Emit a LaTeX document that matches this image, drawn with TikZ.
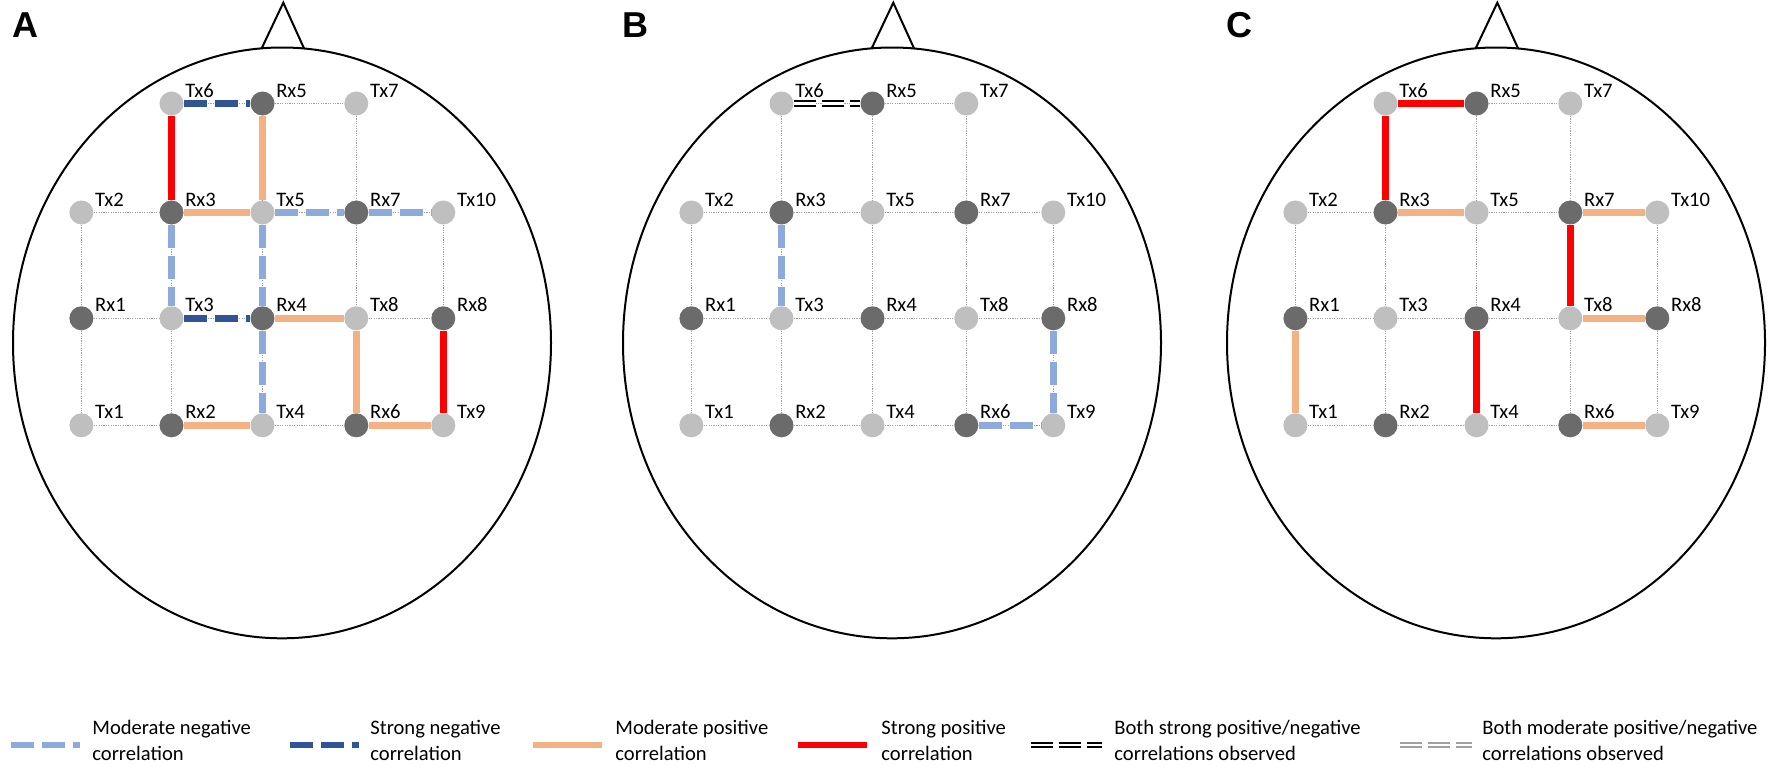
\documentclass[tikz,border=0pt]{standalone}
\usepackage{fontspec}
\setmainfont{Carlito}
\newfontfamily\panelfont{Liberation Sans}

\definecolor{txgray}{HTML}{BFBFBF}
\definecolor{rxgray}{HTML}{6B6B6B}
\definecolor{dotgray}{HTML}{A0A0A0}
\definecolor{modblue}{HTML}{8EA9DB}
\definecolor{strblue}{HTML}{2F5597}
\definecolor{modorange}{HTML}{F4B183}
\definecolor{strred}{HTML}{FF0000}

\tikzset{
  tx/.style={circle, fill=txgray, minimum size=12pt, inner sep=0pt},
  rx/.style={circle, fill=rxgray, minimum size=12pt, inner sep=0pt},
  lbl/.style={anchor=base west, inner sep=0pt, xshift=0.5pt, yshift=3.25pt, font=\fontsize{10.3}{12}\selectfont},
  gridline/.style={draw=dotgray, line width=0.5pt, dash pattern=on 0.6pt off 0.6pt},
  head/.style={draw=black, line width=1pt},
  modneg/.style={draw=modblue, line width=3.2pt, dash pattern=on 11.5pt off 4pt},
  strneg/.style={draw=strblue, line width=3.2pt, dash pattern=on 11.5pt off 4pt},
  modpos/.style={draw=modorange, line width=3.2pt},
  strpos/.style={draw=strred, line width=3.2pt},
  bothstr/.style={draw=black, double=white, line width=0.9pt, double distance=1.3pt, dash pattern=on 11pt off 3pt},
  bothmod/.style={draw=dotgray, double=white, line width=0.9pt, double distance=1.3pt, dash pattern=on 11pt off 3pt},
  panel/.style={anchor=base west, inner sep=0pt, font=\panelfont\bfseries\fontsize{18}{20}\selectfont},
  legtxt/.style={anchor=base west, inner sep=0pt, align=left, font=\fontsize{10.3}{13}\selectfont}
}

\begin{document}
\begin{tikzpicture}[x=0.5pt, y=-0.5pt]
\useasboundingbox (0,0) rectangle (1772,766);

% three heads
\foreach \p/\dx in {A/0,B/610,C/1214}{
\begin{scope}[shift={(\dx,0)}]
\node[panel] (\p-letter) at (12,37.3) {\p};
\draw[head] (282,342.9) ellipse [x radius=134.5pt, y radius=147.7pt];
\draw[head, line join=miter] (261.7,48.3) -- (283.3,2.7) -- (304,48.3);

\foreach \n/\x/\y in {Tx6/171.5/103.5, Tx7/356.3/103.5, Tx2/81.4/212.5, Tx5/262.5/212.5, Tx10/443.3/212.5,
  Tx3/171.5/318.3, Tx8/356.3/318.3, Tx1/81.4/425.3, Tx4/262.5/425.3, Tx9/443.3/425.3}
  \node[tx, label={[lbl]0:\n}] (\p-\n) at (\x,\y) {};
\foreach \n/\x/\y in {Rx5/262.5/103.5, Rx3/171.5/212.5, Rx7/356.3/212.5, Rx1/81.4/318.3,
  Rx4/262.5/318.3, Rx8/443.3/318.3, Rx2/171.5/425.3, Rx6/356.3/425.3}
  \node[rx, label={[lbl]0:\n}] (\p-\n) at (\x,\y) {};

\foreach \a/\b in {Tx6/Rx5, Rx5/Tx7, Tx2/Rx3, Rx3/Tx5, Tx5/Rx7, Rx7/Tx10, Rx1/Tx3, Tx3/Rx4,
  Rx4/Tx8, Tx8/Rx8, Tx1/Rx2, Rx2/Tx4, Tx4/Rx6, Rx6/Tx9,
  Tx2/Rx1, Rx1/Tx1, Tx6/Rx3, Rx3/Tx3, Tx3/Rx2, Rx5/Tx5, Tx5/Rx4, Rx4/Tx4,
  Tx7/Rx7, Rx7/Tx8, Tx8/Rx6, Tx10/Rx8, Rx8/Tx9}
  \draw[gridline] (\p-\a) -- (\p-\b);
\end{scope}
}

% A
\draw[strneg] (A-Tx6) -- (A-Rx5);
\draw[strpos] (A-Tx6) -- (A-Rx3);
\draw[modpos] (A-Rx5) -- (A-Tx5);
\draw[modpos] (A-Rx3) -- (A-Tx5);
\draw[modneg] (A-Tx5) -- (A-Rx7);
\draw[modneg] (A-Rx7) -- (A-Tx10);
\draw[modneg] (A-Rx3) -- (A-Tx3);
\draw[modneg] (A-Tx5) -- (A-Rx4);
\draw[strneg] (A-Tx3) -- (A-Rx4);
\draw[modpos] (A-Rx4) -- (A-Tx8);
\draw[modneg] (A-Rx4) -- (A-Tx4);
\draw[modpos] (A-Tx8) -- (A-Rx6);
\draw[strpos] (A-Rx8) -- (A-Tx9);
\draw[modpos] (A-Rx2) -- (A-Tx4);
\draw[modpos] (A-Rx6) -- (A-Tx9);

% B
\draw[bothstr] (B-Tx6) -- (B-Rx5);
\draw[modneg] (B-Rx3) -- (B-Tx3);
\draw[modneg] (B-Rx8) -- (B-Tx9);
\draw[modneg] (B-Rx6) -- (B-Tx9);

% C
\draw[strpos] (C-Tx6) -- (C-Rx5);
\draw[strpos] (C-Tx6) -- (C-Rx3);
\draw[modpos] (C-Rx3) -- (C-Tx5);
\draw[modpos] (C-Rx7) -- (C-Tx10);
\draw[strpos] (C-Rx7) -- (C-Tx8);
\draw[modpos] (C-Tx8) -- (C-Rx8);
\draw[modpos] (C-Rx1) -- (C-Tx1);
\draw[strpos] (C-Rx4) -- (C-Tx4);
\draw[modpos] (C-Rx6) -- (C-Tx9);

% legend
\coordinate (lg1s) at (11,745);   \coordinate (lg1e) at (80,745);
\coordinate (lg2s) at (290,745);  \coordinate (lg2e) at (359,745);
\coordinate (lg3s) at (533,745);  \coordinate (lg3e) at (602,745);
\coordinate (lg4s) at (798,745);  \coordinate (lg4e) at (867,745);
\coordinate (lg5s) at (1031,745); \coordinate (lg5e) at (1102,745);
\coordinate (lg6s) at (1400,745); \coordinate (lg6e) at (1472,745);
\draw[modneg] (lg1s) -- (lg1e);
\draw[strneg] (lg2s) -- (lg2e);
\draw[modpos] (lg3s) -- (lg3e);
\draw[strpos] (lg4s) -- (lg4e);
\draw[bothstr] (lg5s) -- (lg5e);
\draw[bothmod] (lg6s) -- (lg6e);
\node[legtxt] (lg1) at (92,760.5) {Moderate negative\\correlation};
\node[legtxt] (lg2) at (370,760.5) {Strong negative\\correlation};
\node[legtxt] (lg3) at (615,760.5) {Moderate positive\\correlation};
\node[legtxt] (lg4) at (881,760.5) {Strong positive\\correlation};
\node[legtxt] (lg5) at (1114,760.5) {Both strong positive/negative\\correlations observed};
\node[legtxt] (lg6) at (1482,760.5) {Both moderate positive/negative\\correlations observed};

\end{tikzpicture}
\end{document}
